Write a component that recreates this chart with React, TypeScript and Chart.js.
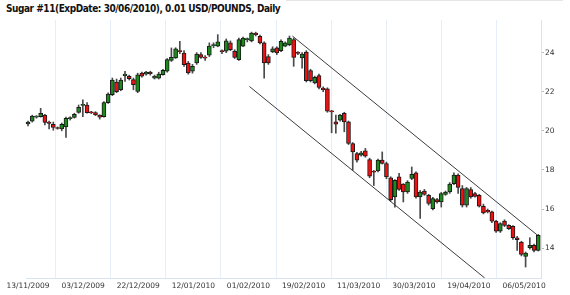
import React, { useEffect, useRef } from "react";
import { Chart, registerables } from "chart.js";

Chart.register(...registerables);

const titleText = "Sugar #11(ExpDate: 30/06/2010), 0.01 USD/POUNDS, Daily";

const dateLabels = [
  "13/11/2009", "03/12/2009", "22/12/2009", "12/01/2010", "01/02/2010",
  "19/02/2010", "11/03/2010", "30/03/2010", "19/04/2010", "06/05/2010",
];
const labelStep = 13.07;

const yTicks = [14, 16, 18, 20, 22, 24];

const opens = [
  20.35, 20.5, 20.7, 20.72, 20.8, 20.45, 20.33, 20.15, 20.1, 20.2,
  20.62, 20.69, 20.94, 21.3, 21.32, 20.95, 20.93, 20.8, 20.72, 21.44,
  21.85, 22.5, 22.1, 22.82, 22.79, 22.62, 22.02, 22.96, 22.9, 23.0,
  22.7, 22.7, 22.87, 23.05, 23.6, 23.73, 24.1, 23.98, 23.47, 23.05,
  23.47, 23.9, 23.74, 23.87, 24.36, 24.33, 24.1, 24.07, 24.5, 24.07,
  23.64, 24.33, 24.67, 24.6, 25.0, 24.84, 24.5, 23.8, 24.04, 24.24,
  24.1, 24.33, 24.41, 24.67, 23.98, 23.73, 24.03, 23.08, 22.45, 22.82,
  22.19, 22.15, 21.0, 20.46, 20.55, 20.89, 20.46, 19.35, 18.84, 18.75,
  18.97, 18.53, 17.92, 17.95, 18.5, 18.33, 17.6, 16.62, 17.64, 17.27,
  16.87, 17.56, 17.85, 16.62, 16.92, 16.7, 16.02, 16.48, 16.36, 16.75,
  16.87, 17.3, 17.73, 17.05, 16.19, 17.0, 16.79, 16.7, 16.14, 15.93,
  15.85, 15.38, 14.87, 15.38, 15.16, 15.11, 14.53, 14.31, 13.57, 14.02,
  14.14, 13.88,
];
const highs = [
  20.5, 20.8, 20.78, 21.15, 20.85, 20.5, 20.45, 20.2, 20.4, 20.7,
  20.72, 20.9, 21.32, 21.58, 21.45, 21.0, 20.98, 20.82, 21.5, 21.95,
  22.7, 22.65, 22.7, 23.05, 22.85, 22.7, 22.95, 23.0, 23.05, 23.05,
  22.85, 23.0, 23.15, 23.7, 24.24, 24.25, 24.58, 24.1, 23.55, 23.4,
  24.0, 24.0, 23.85, 24.5, 24.5, 24.92, 24.15, 24.7, 24.6, 24.15,
  24.75, 24.8, 24.75, 25.05, 25.05, 24.9, 24.55, 23.9, 24.3, 24.3,
  24.65, 24.55, 24.85, 24.75, 24.05, 24.0, 24.1, 23.15, 22.8, 22.9,
  22.25, 22.2, 21.05, 20.8, 20.85, 20.95, 20.5, 19.4, 18.9, 18.95,
  19.1, 18.6, 17.98, 18.55, 18.92, 18.4, 17.65, 17.5, 17.82, 17.3,
  17.45, 18.15, 17.9, 16.95, 17.0, 16.75, 16.6, 16.55, 16.85, 16.92,
  17.35, 17.85, 17.8, 17.2, 17.1, 17.1, 16.85, 16.75, 16.25, 16.0,
  15.9, 15.42, 15.3, 15.45, 15.2, 15.15, 14.6, 14.35, 13.8, 14.53,
  14.2, 14.7,
];
const lows = [
  20.25, 20.45, 20.65, 20.7, 20.3, 20.1, 20.03, 20.08, 20.0, 19.66,
  20.55, 20.65, 20.9, 20.72, 20.9, 20.88, 20.78, 20.6, 20.7, 21.4,
  21.8, 21.95, 22.05, 22.53, 22.6, 22.1, 21.95, 22.75, 22.85, 22.85,
  22.65, 22.65, 22.85, 23.0, 23.55, 23.7, 23.95, 23.3, 22.9, 22.95,
  23.4, 23.7, 23.6, 23.8, 24.25, 24.3, 23.95, 24.0, 24.1, 23.7,
  23.6, 24.3, 24.55, 24.55, 24.85, 24.45, 22.7, 23.4, 24.0, 23.9,
  24.05, 24.3, 24.35, 23.3, 23.9, 23.2, 22.5, 22.5, 22.4, 22.15,
  22.0, 20.95, 19.9, 19.88, 20.5, 19.95, 19.3, 17.98, 18.4, 18.7,
  18.65, 17.6, 17.2, 17.9, 18.3, 17.55, 16.4, 16.1, 16.95, 16.36,
  16.8, 17.5, 16.55, 15.52, 16.7, 16.2, 15.95, 16.3, 16.1, 16.7,
  16.8, 17.25, 16.8, 16.1, 16.1, 16.55, 16.6, 16.1, 15.75, 15.8,
  15.3, 14.8, 14.8, 15.1, 14.95, 14.45, 13.88, 13.6, 13.03, 13.95,
  13.8, 13.85,
];
const closes = [
  20.45, 20.75, 20.72, 20.9, 20.43, 20.38, 20.18, 20.12, 20.33, 20.64,
  20.68, 20.84, 21.2, 21.35, 20.93, 20.92, 20.82, 20.7, 21.44, 21.88,
  22.6, 22.0, 22.6, 22.9, 22.67, 22.36, 22.87, 22.79, 23.0, 22.92,
  22.79, 22.9, 23.1, 23.64, 23.76, 24.2, 24.05, 23.38, 22.96, 23.3,
  23.93, 23.76, 23.72, 24.33, 24.39, 24.55, 24.05, 24.6, 24.15, 23.76,
  24.67, 24.75, 24.69, 25.0, 24.92, 24.5, 23.47, 23.47, 24.2, 23.98,
  24.58, 24.5, 24.75, 23.76, 23.96, 23.93, 22.56, 22.56, 22.74, 22.22,
  22.1, 21.0, 20.97, 20.34, 20.8, 20.46, 19.35, 18.92, 18.5, 18.87,
  18.7, 17.68, 17.88, 18.5, 18.33, 17.64, 16.48, 17.47, 17.0, 16.87,
  17.38, 17.78, 16.62, 16.87, 16.75, 16.28, 16.53, 16.36, 16.79, 16.87,
  17.27, 17.73, 17.1, 16.19, 17.05, 16.62, 16.65, 16.14, 15.8, 15.85,
  15.38, 14.87, 15.25, 15.16, 14.99, 14.53, 14.43, 13.68, 13.74, 14.14,
  13.88, 14.65,
];

const upperChannel = [
  { x: 62.7, y: 24.85 },
  { x: 120.7, y: 14.68 },
];
const lowerChannel = [
  { x: 52.5, y: 22.27 },
  { x: 108.3, y: 12.47 },
];

const tickFont = { family: "'DejaVu Sans', sans-serif", size: 7.5 };

export default function App() {
  const ref = useRef<HTMLCanvasElement | null>(null);

  useEffect(() => {
    if (!ref.current) return;
    const idx = opens.map((_, i) => i);
    const bodies = idx.map((i) => ({ x: i, y: [opens[i], closes[i]] }));
    const wicks = idx.map((i) => ({ x: i, y: [lows[i], highs[i]] }));
    const isUp = idx.map((i) => closes[i] >= opens[i]);

    const chart = new Chart(ref.current, {
      type: "bar",
      data: {
        datasets: [
          {
            type: "line",
            data: upperChannel,
            borderColor: "#3c3c3c",
            borderWidth: 1,
            pointRadius: 0,
            fill: false,
          },
          {
            type: "line",
            data: lowerChannel,
            borderColor: "#3c3c3c",
            borderWidth: 1,
            pointRadius: 0,
            fill: false,
          },
          {
            type: "bar",
            data: bodies as any,
            backgroundColor: isUp.map((u) => (u ? "#1e8a1e" : "#ee1111")),
            borderColor: "#1a1a1a",
            borderWidth: 1,
            borderSkipped: false,
            barThickness: 4,
            minBarLength: 1,
            grouped: false,
            clip: false as any,
          },
          {
            type: "bar",
            data: wicks as any,
            backgroundColor: "#4a4a4a",
            borderWidth: 0,
            barThickness: 1,
            grouped: false,
            clip: false as any,
          },
        ],
      },
      options: {
        animation: false,
        responsive: false,
        maintainAspectRatio: false,
        layout: { padding: { left: 26.5, top: 20, right: 0, bottom: 0 } },
        plugins: {
          legend: { display: false },
          tooltip: { enabled: false },
          title: { display: false },
        },
        scales: {
          x: {
            type: "linear",
            min: -0.36,
            max: 121.65,
            offset: false,
            afterBuildTicks: (s: any) => {
              s.ticks = dateLabels.map((_, k) => ({ value: k * labelStep }));
            },
            afterFit: (s: any) => {
              s.height = 17;
            },
            grid: { color: "#e6eef7", drawTicks: false, lineWidth: 1 },
            border: { color: "#d8e4f1" },
            ticks: {
              autoSkip: false,
              maxRotation: 0,
              minRotation: 0,
              padding: 4,
              font: tickFont,
              color: "#333",
              callback: (_v: any, k: number) => dateLabels[k],
            },
          },
          y: {
            position: "right",
            min: 12.47,
            max: 25.67,
            afterBuildTicks: (s: any) => {
              s.ticks = yTicks.map((v) => ({ value: v }));
            },
            afterFit: (s: any) => {
              s.width = 29;
            },
            grid: {
              drawOnChartArea: false,
              drawTicks: true,
              tickLength: 3,
              color: "#b8b8b8",
            },
            border: { color: "#d8e4f1" },
            ticks: {
              padding: 1,
              font: tickFont,
              color: "#333",
              callback: (v: any) => String(v),
            },
          },
        },
      },
    } as any);
    return () => chart.destroy();
  }, []);

  return (
    <div
      style={{
        position: "absolute",
        left: 0,
        top: 0,
        width: 570,
        height: 295,
        background: "#fff",
        overflow: "hidden",
      }}
    >
      <div
        style={{
          position: "absolute",
          left: 286,
          top: 0,
          width: 277,
          height: 1,
          background: "#e6e6e6",
        }}
      />
      <div
        style={{
          position: "absolute",
          left: 6,
          top: 3,
          fontFamily: "'DejaVu Sans Condensed', 'DejaVu Sans', sans-serif",
          fontWeight: "bold",
          fontSize: 10,
          lineHeight: "12px",
          letterSpacing: "-0.45px",
          color: "#111",
          whiteSpace: "nowrap",
        }}
      >
        {titleText}
      </div>
      <canvas
        ref={ref}
        width={570}
        height={295}
        style={{ position: "absolute", left: 0, top: 0, width: 570, height: 295 }}
      />
    </div>
  );
}
